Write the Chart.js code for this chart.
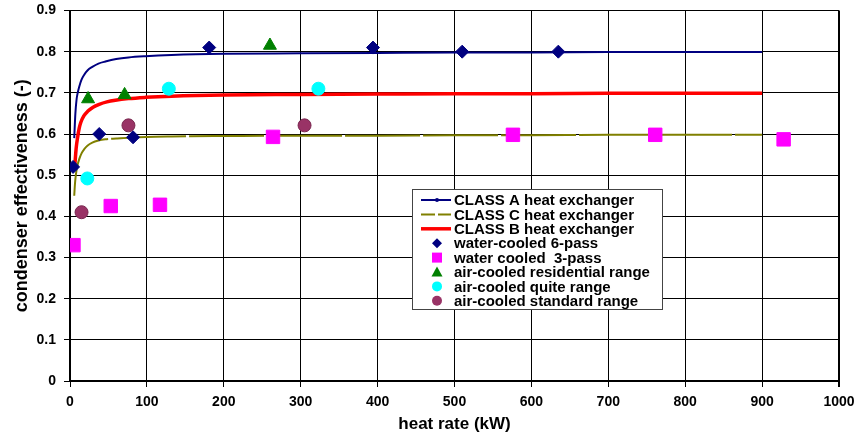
<!DOCTYPE html>
<html>
<head>
<meta charset="utf-8">
<script src="https://cdn.jsdelivr.net/npm/chart.js@4"></script>
<style>
    html, body { margin: 0; padding: 0; background: #fff; }
</style>
</head>
<body>
<canvas id="effectivenessChart" width="859" height="439"></canvas>
<script>
// axis ticks
const xTickValues = [0, 100, 200, 300, 400, 500, 600, 700, 800, 900, 1000];
const yTickValues = [0, 0.1, 0.2, 0.3, 0.4, 0.5, 0.6, 0.7, 0.8, 0.9];

// heat exchanger curves
const classAHeat = [5.5, 7, 8.6, 10, 12, 15, 18.5, 23, 29, 37, 46, 60, 76, 98, 132, 200, 300, 400, 500, 600, 700, 800, 900];
const classAEff = [0.59, 0.65, 0.685, 0.70, 0.715, 0.732, 0.744, 0.755, 0.763, 0.771, 0.776, 0.782, 0.786, 0.789, 0.792, 0.795, 0.796, 0.797, 0.798, 0.798, 0.799, 0.799, 0.799];

const classCHeat = [5.5, 6.5, 7.7, 9.5, 12, 15, 18.5, 23, 29, 37, 46, 60, 76, 100, 132, 200, 300, 400, 500, 600, 700, 800, 900];
const classCEff = [0.45, 0.48, 0.502, 0.522, 0.539, 0.553, 0.563, 0.572, 0.579, 0.584, 0.587, 0.589, 0.591, 0.593, 0.594, 0.595, 0.596, 0.596, 0.597, 0.597, 0.598, 0.598, 0.598];

const classBHeat = [6.4, 8, 10, 12, 14, 18, 23, 30, 38, 48, 59, 76, 98, 132, 200, 300, 400, 500, 600, 700, 800, 900];
const classBEff = [0.527, 0.565, 0.593, 0.614, 0.628, 0.644, 0.655, 0.665, 0.672, 0.678, 0.682, 0.686, 0.689, 0.692, 0.695, 0.696, 0.697, 0.698, 0.698, 0.699, 0.699, 0.699];

// measured condensers
const sixPassHeat = [4, 38, 82, 181, 394, 510, 635];
const sixPassEff = [0.52, 0.60, 0.592, 0.81, 0.81, 0.80, 0.80];

const threePassHeat = [4.5, 53, 117, 264, 576, 761, 928];
const threePassEff = [0.33, 0.425, 0.428, 0.593, 0.598, 0.598, 0.587];

const residentialHeat = [23.5, 71, 260];
const residentialEff = [0.685, 0.695, 0.815];

const quiteHeat = [22.5, 128.5, 323];
const quiteEff = [0.492, 0.71, 0.71];

const standardHeat = [15, 76, 305];
const standardEff = [0.41, 0.621, 0.621];

const FONT = '"Liberation Sans", Arial, sans-serif';

function toPoints(xs, ys) {
    return xs.map((x, i) => ({ x: x, y: ys[i] }));
}

function curve(label, xs, ys, color, width, dash) {
    return {
        label: label,
        data: toPoints(xs, ys),
        showLine: true,
        borderColor: color,
        backgroundColor: color,
        borderWidth: width,
        borderDash: dash || [],
        pointRadius: 0,
        cubicInterpolationMode: 'monotone',
        order: 10
    };
}

function markers(label, xs, ys, color, style, radius, edge) {
    return {
        label: label,
        data: toPoints(xs, ys),
        showLine: false,
        pointStyle: style,
        pointRadius: radius,
        pointBackgroundColor: color,
        pointBorderColor: edge || color,
        pointBorderWidth: 1,
        backgroundColor: color,
        borderColor: edge || color,
        order: 0
    };
}

// draws a small marker for the legend
function legendMarker(ctx, style, x, y) {
    ctx.beginPath();
    if (style === 'rectRot') {
        ctx.moveTo(x, y - 5); ctx.lineTo(x + 5, y); ctx.lineTo(x, y + 5); ctx.lineTo(x - 5, y);
    } else if (style === 'rect') {
        ctx.rect(x - 5, y - 5, 10, 10);
    } else if (style === 'triangle') {
        ctx.moveTo(x, y - 5.5); ctx.lineTo(x + 5.5, y + 4.5); ctx.lineTo(x - 5.5, y + 4.5);
    } else {
        ctx.arc(x, y, 5, 0, Math.PI * 2);
    }
    ctx.closePath();
    ctx.fill();
}

const boxLegend = {
    id: 'boxLegend',
    afterDraw(chart) {
        const ctx = chart.ctx;
        const left = 412.5, top = 189.5, width = 250, height = 120;
        ctx.save();
        ctx.fillStyle = '#fff';
        ctx.fillRect(left, top, width, height);
        ctx.strokeStyle = '#444';
        ctx.lineWidth = 1;
        ctx.strokeRect(left, top, width, height);

        ctx.font = 'bold 15px ' + FONT;
        ctx.textBaseline = 'middle';
        chart.data.datasets.forEach((ds, i) => {
            const y = 200 + i * 14.4;
            if (ds.showLine) {
                ctx.strokeStyle = ds.borderColor;
                ctx.lineWidth = ds.borderWidth;
                ctx.setLineDash(ds.borderDash.length ? [14, 3] : []);
                ctx.beginPath();
                ctx.moveTo(421, y);
                ctx.lineTo(451, y);
                ctx.stroke();
                ctx.setLineDash([]);
                if (i === 0) {
                    ctx.fillStyle = ds.borderColor;
                    ctx.beginPath();
                    ctx.arc(437, y, 2, 0, Math.PI * 2);
                    ctx.fill();
                }
            } else {
                ctx.fillStyle = ds.pointBackgroundColor;
                legendMarker(ctx, ds.pointStyle, 437, y);
            }
            ctx.fillStyle = '#000';
            ctx.fillText(ds.label, 454, y + 1);
        });
        ctx.restore();
    }
};

document.addEventListener('DOMContentLoaded', () => {
    const ctx = document.getElementById('effectivenessChart').getContext('2d');
    new Chart(ctx, {
        type: 'scatter',
        data: {
            datasets: [
                curve('CLASS A heat exchanger', classAHeat, classAEff, '#000080', 2),
                curve('CLASS C heat exchanger', classCHeat, classCEff, '#808000', 2, [75, 3]),
                curve('CLASS B heat exchanger', classBHeat, classBEff, '#ff0000', 3.5),
                markers('water-cooled 6-pass', sixPassHeat, sixPassEff, '#000080', 'rectRot', 6.5),
                markers('water cooled  3-pass', threePassHeat, threePassEff, '#ff00ff', 'rect', 9.5),
                markers('air-cooled residential range', residentialHeat, residentialEff, '#008000', 'triangle', 7.5),
                markers('air-cooled quite range', quiteHeat, quiteEff, '#00ffff', 'circle', 6.5),
                markers('air-cooled standard range', standardHeat, standardEff, '#993366', 'circle', 6.5, '#7a2850')
            ]
        },
        options: {
            responsive: false,
            animation: false,
            layout: {
                padding: { top: 9, right: 20, left: 0, bottom: 0 }
            },
            scales: {
                x: {
                    type: 'linear',
                    min: 0,
                    max: 1000,
                    afterBuildTicks: (scale) => {
                        scale.ticks = xTickValues.map(v => ({ value: v }));
                    },
                    afterFit: (scale) => {
                        scale.height = 58;
                        scale.paddingLeft = 0;
                        scale.paddingRight = 0;
                    },
                    grid: {
                        color: '#000',
                        lineWidth: (c) => (c.index === xTickValues.length - 1 ? 2 : 1),
                        tickLength: 6
                    },
                    border: { display: true, color: '#000', width: 2 },
                    ticks: {
                        color: '#000',
                        padding: 7,
                        maxRotation: 0,
                        autoSkip: false,
                        font: { family: FONT, size: 14, weight: 'bold' },
                        callback: (v) => String(v)
                    },
                    title: {
                        display: true,
                        text: 'heat rate (kW)',
                        color: '#000',
                        padding: { top: 0, bottom: 4 },
                        font: { family: FONT, size: 17, weight: 'bold' }
                    }
                },
                y: {
                    type: 'linear',
                    min: 0,
                    max: 0.9,
                    afterBuildTicks: (scale) => {
                        scale.ticks = yTickValues.map(v => ({ value: v }));
                    },
                    afterFit: (scale) => {
                        scale.width = 70;
                        scale.paddingTop = 0;
                        scale.paddingBottom = 0;
                    },
                    grid: {
                        color: '#000',
                        lineWidth: 1,
                        tickLength: 6
                    },
                    border: { display: true, color: '#000', width: 2 },
                    ticks: {
                        color: '#000',
                        padding: 8,
                        font: { family: FONT, size: 14, weight: 'bold' },
                        callback: (v) => String(v)
                    },
                    title: {
                        display: true,
                        text: 'condenser effectiveness (-)',
                        color: '#000',
                        padding: { top: 11, bottom: 0 },
                        font: { family: FONT, size: 18, weight: 'bold' }
                    }
                }
            },
            plugins: {
                legend: { display: false },
                tooltip: { enabled: false }
            }
        },
        plugins: [boxLegend]
    });
});
</script>
</body>
</html>
